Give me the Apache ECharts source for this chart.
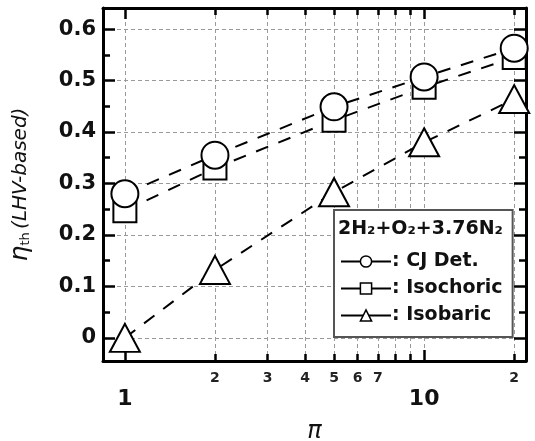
<!DOCTYPE html>
<html><head><meta charset="utf-8">
<script src="https://cdn.jsdelivr.net/npm/echarts@6/dist/echarts.min.js"></script>
<style>html,body{margin:0;padding:0;background:#fff}#c{width:535px;height:441px}</style>
</head><body><div id="c"></div>
<script>
// ---- data ----
const pi = [1, 2, 5, 10, 20];
const cjDet = [0.28, 0.355, 0.449, 0.507, 0.563];
const isochoric = [0.247, 0.33, 0.423, 0.487, 0.545];
const isobaric = [0.0, 0.132, 0.283, 0.38, 0.464];
const seriesNames = ['CJ Det.', 'Isochoric', 'Isobaric'];
const legendTitle = '2H₂+O₂+3.76N₂';
// ---- ticks ----
const xMajor = [1, 10];
const xMinor = [2, 3, 4, 5, 6, 7, 8, 9, 20];
const xMinorLabels = [2, 3, 4, 5, 6, 7, 20];
const yMajor = [0, 0.1, 0.2, 0.3, 0.4, 0.5, 0.6];
const yMinor = [0.05, 0.15, 0.25, 0.35, 0.45, 0.55];
const xRange = [0.845, 21.9];
const yRange = [-0.045, 0.641];

const FF = 'DejaVu Sans';
const gridRect = {left: 103, right: 9, top: 8, bottom: 80, outerBoundsMode: 'none', containLabel: false};
const split = {show: true, lineStyle: {color: '#9a9a9a', type: [4, 3], width: 1}};
function xAx(idx, pos, major) {
  const vals = major ? xMajor : xMinor;
  return {
    type: 'log', logBase: 10, gridIndex: idx, position: pos,
    min: xRange[0], max: xRange[1],
    axisLine: {show: major, onZero: false, lineStyle: {color: '#000', width: 3}},
    axisTick: {show: true, inside: true, customValues: vals, length: major ? 11 : 7, lineStyle: {color: '#000', width: 2.5}},
    axisLabel: pos === 'bottom' ? (major ? {
      show: true, customValues: xMajor, fontFamily: FF, fontWeight: 'bold', fontSize: 22, color: '#111', margin: 27,
      formatter: v => String(v)
    } : {
      show: true, customValues: xMinorLabels, fontFamily: FF, fontWeight: 'bold', fontSize: 14, color: '#222', margin: 10,
      formatter: v => String(v >= 10 ? v / 10 : v)
    }) : {show: false},
    splitLine: pos === 'bottom' ? split : {show: false},
    name: (major && pos === 'bottom') ? 'π' : '',
    nameLocation: 'middle', nameGap: 59,
    nameTextStyle: {fontFamily: FF, fontStyle: 'italic', fontSize: 24, color: '#111'}
  };
}
function yAx(idx, pos, major) {
  const vals = major ? yMajor : yMinor;
  const o = {
    type: 'value', gridIndex: idx, position: pos,
    min: yRange[0], max: yRange[1],
    axisLine: {show: major, onZero: false, lineStyle: {color: '#000', width: 3}},
    axisTick: {show: true, inside: true, customValues: vals, length: major ? 12 : 7, lineStyle: {color: '#000', width: 2.5}},
    axisLabel: (major && pos === 'left') ? {
      show: true, customValues: yMajor, fontFamily: FF, fontWeight: 'bold', fontSize: 21, color: '#111', margin: 7,
      formatter: v => v === 0 ? '0' : v.toFixed(1)
    } : {show: false},
    splitLine: (major && pos === 'left') ? split : {show: false}
  };
  if (major && pos === 'left') {
    o.name = '{e|η}{s|th} {p|(LHV-based)}';
    o.nameLocation = 'middle';
    o.nameRotate = 90;
    o.nameGap = 70;
    o.nameTextStyle = {
      rich: {
        e: {fontFamily: FF, fontStyle: 'italic', fontSize: 25, color: '#111'},
        s: {fontFamily: FF, fontSize: 13, color: '#111', padding: [10, 0, 0, 0]},
        p: {fontFamily: FF, fontStyle: 'italic', fontSize: 20, color: '#111'}
      }
    };
  }
  return o;
}

const lineDash = [13, 11];
function mk(name, data, symbol, size, z) {
  return {
    name, type: 'line', xAxisIndex: 0, yAxisIndex: 0,
    data: pi.map((x, i) => [x, data[i]]),
    symbol, symbolSize: size, showSymbol: true, z,
    lineStyle: {color: '#000', width: 2, type: lineDash},
    itemStyle: {color: '#fff', borderColor: '#000', borderWidth: 2},
    emphasis: {disabled: true}, animation: false
  };
}

const chart = echarts.init(document.getElementById('c'), null, {renderer: 'canvas'});
chart.setOption({
  backgroundColor: '#fff',
  animation: false,
  grid: [Object.assign({}, gridRect), Object.assign({}, gridRect)],
  xAxis: [xAx(0, 'bottom', true), xAx(0, 'top', true), xAx(1, 'bottom', false), xAx(1, 'top', false)],
  yAxis: [yAx(0, 'left', true), yAx(0, 'right', true), yAx(1, 'left', false), yAx(1, 'right', false)],
  title: {
    text: legendTitle, left: 338, top: 220, padding: 0,
    textStyle: {fontFamily: FF, fontWeight: 'bold', fontSize: 19, color: '#111'}, z: 10
  },
  legend: {
    orient: 'vertical', left: 334, top: 210,
    padding: [42, 10, 12, 6], itemGap: 8,
    itemWidth: 50, itemHeight: 14,
    backgroundColor: '#fff', borderColor: '#555', borderWidth: 2, borderRadius: 0,
    data: seriesNames,
    lineStyle: {type: 'solid', width: 2, color: '#000'},
    itemStyle: {color: '#fff', borderColor: '#000', borderWidth: 1.5},
    formatter: n => ': ' + n,
    textStyle: {fontFamily: FF, fontWeight: 'bold', fontSize: 19, color: '#111', padding: [0, 0, 0, -4]},
    selectedMode: false
  },
  series: [
    mk(seriesNames[2], isobaric, 'triangle', [30, 28], 3),
    mk(seriesNames[1], isochoric, 'rect', 23, 4),
    mk(seriesNames[0], cjDet, 'circle', 27, 5)
  ]
});
</script></body></html>
